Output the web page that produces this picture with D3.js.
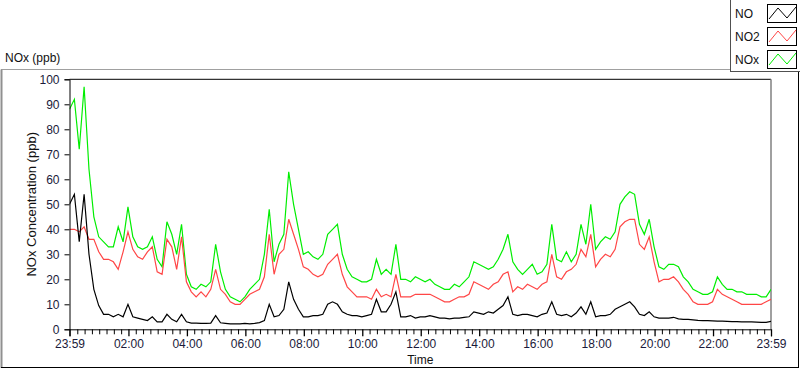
<!DOCTYPE html>
<html>
<head>
<meta charset="utf-8">
<script src="https://cdn.jsdelivr.net/npm/d3@7"></script>
<style>
  body { margin: 0; background: #fff; }
  svg { display: block; font-family: "Liberation Sans", Arial, sans-serif; }
</style>
</head>
<body>
<svg width="800" height="369"></svg>
<script>
// readings every 10 min, starting 23:59 (minute -1) up to 23:59 (minute 1439)
const startMin = -1, stepMin = 10;

const noValues = [
  50, 54, 35, 54, 30, 16, 9.5, 6, 6, 5,
  6, 5, 10, 5, 4.5, 4, 3.5, 5, 3, 3,
  6, 4, 3, 6, 3, 2.5, 2.5, 2.4, 2.4, 2.5,
  5.5, 2.6, 2.4, 2.2, 2.2, 2.2, 2.4, 2.2, 2.4, 2.7,
  3.5, 10, 5, 5.5, 8, 19, 12, 8, 5, 5,
  5.5, 5.5, 6, 10, 11, 10, 7, 6, 5.5, 5.5,
  5, 5.5, 6, 12, 7, 7, 10, 15, 5, 5,
  5.5, 4.5, 5, 5, 5.5, 5, 4.5, 4.5, 4.2, 4.5,
  4.5, 4.8, 5, 7, 6.5, 6, 7, 6.5, 8, 9.5,
  13, 6, 5.5, 6, 6, 5.5, 5, 6, 6.5, 11,
  6, 5.5, 6, 5, 6.5, 9, 6, 11, 5, 5.5,
  5.5, 6, 8, 9, 10, 11, 9, 6, 5.5, 7,
  5, 4.5, 4.5, 4.5, 4.8, 4.2, 4, 4, 3.8, 3.6,
  3.5, 3.5, 3.4, 3.3, 3.3, 3.2, 3.1, 3.1, 3, 3,
  3, 2.9, 2.8, 2.8, 3.2
];

const no2Values = [
  40, 40, 39, 41, 36, 36, 31, 28, 28, 27,
  24, 31, 39, 32, 29, 28, 31, 33, 23, 22,
  36, 33, 24, 37, 19, 15, 13, 15, 13, 16,
  24, 16, 14, 11, 10, 10, 12, 14, 15, 16,
  21, 38, 22, 30, 32, 44, 38, 32, 25, 24,
  22, 21, 22, 26, 28, 30, 22, 17, 15, 13,
  13, 13, 12, 16, 13, 14, 13, 22, 13, 13,
  13, 14, 14, 14, 14, 13, 12, 11, 11, 12,
  13, 13, 14, 19, 18, 17, 16, 18, 19, 22,
  23, 15, 17, 16, 18, 17, 16, 18, 19, 30,
  21, 20, 23, 24, 26, 32, 29, 38, 25, 28,
  30, 29, 32, 41, 43, 44, 44, 34, 32, 37,
  27, 19, 20, 20, 21, 19, 16, 14, 11, 10,
  10, 10, 11, 16, 14, 13, 12, 11, 10, 10,
  10, 10, 10, 11, 12
];

const noxValues = [
  88, 92, 72, 97, 64, 45, 37, 35, 33, 33,
  41, 35, 49, 37, 33, 32, 33, 37, 28, 25,
  43, 38, 30, 42, 22, 17, 16, 18, 17, 19,
  34, 23, 16, 13, 12, 11, 13, 16, 18, 20,
  30, 48, 27, 34, 38, 63, 50, 40, 30, 31,
  29, 28, 30, 38, 40, 42, 30, 24, 21, 20,
  19, 19, 20, 28, 22, 24, 22, 34, 20, 20,
  19, 21, 20, 19, 20, 18, 17, 16, 16, 18,
  17, 19, 21, 27, 26, 25, 24, 25, 28, 32,
  38, 27, 24, 22, 24, 26, 22, 23, 26, 42,
  28, 27, 31, 27, 30, 42, 34, 50, 32, 35,
  37, 36, 39, 50, 53, 55, 54, 42, 38, 44,
  33, 25, 24, 26, 26, 25, 21, 19, 16, 15,
  14, 14, 15, 21, 18, 16, 16, 15, 15, 14,
  14, 14, 13, 13, 16
];

const seriesNames = ["NO", "NO2", "NOx"];
const seriesColors = ["#000000", "#ff4646", "#00ee00"];
const yTicks = [0, 10, 20, 30, 40, 50, 60, 70, 80, 90, 100];
const xLabels = ["23:59", "02:00", "04:00", "06:00", "08:00", "10:00", "12:00",
                 "14:00", "16:00", "18:00", "20:00", "22:00", "23:59"];
const xLabelMins = [-1, 120, 240, 360, 480, 600, 720, 840, 960, 1080, 1200, 1320, 1439];

const svg = d3.select("svg");
const plotLeft = 69.5, plotRight = 771, plotTop = 79.3, plotBottom = 329.3;

const x = d3.scaleLinear().domain([-1, 1439]).range([plotLeft, plotRight]);
const y = d3.scaleLinear().domain([0, 100]).range([plotBottom, plotTop]);

// outer panel frame (sunken look)
svg.append("line").attr("x1", 1).attr("x2", 799).attr("y1", 69.5).attr("y2", 69.5)
  .attr("stroke", "#a0a0a0");
svg.append("line").attr("x1", 1.5).attr("x2", 1.5).attr("y1", 69.5).attr("y2", 368)
  .attr("stroke", "#909090").attr("stroke-width", 2);
svg.append("line").attr("x1", 1).attr("x2", 799).attr("y1", 367.5).attr("y2", 367.5)
  .attr("stroke", "#000");
svg.append("line").attr("x1", 798.5).attr("x2", 798.5).attr("y1", 69.5).attr("y2", 368)
  .attr("stroke", "#000");

// panel caption
svg.append("text").attr("x", 5).attr("y", 62).attr("font-size", 12).attr("fill", "#111")
  .text("NOx (ppb)");

// plot background + frame
svg.append("rect").attr("x", plotLeft).attr("y", plotTop).attr("width", plotRight - plotLeft)
  .attr("height", plotBottom - plotTop).attr("fill", "#fff");
svg.append("line").attr("x1", plotLeft).attr("x2", plotRight).attr("y1", plotTop).attr("y2", plotTop)
  .attr("stroke", "#000");
svg.append("line").attr("x1", plotRight).attr("x2", plotRight).attr("y1", plotTop).attr("y2", plotBottom)
  .attr("stroke", "#808080").attr("stroke-width", 1.5);

svg.append("clipPath").attr("id", "plotClip").append("rect")
  .attr("x", plotLeft).attr("y", plotTop).attr("width", plotRight - plotLeft)
  .attr("height", plotBottom - plotTop);

// lines
const times = noValues.map((d, i) => startMin + i * stepMin);
const allSeries = [noValues, no2Values, noxValues];
const line = d3.line()
  .x((d, i) => x(times[i]))
  .y(d => y(d));

const plot = svg.append("g").attr("clip-path", "url(#plotClip)");
// draw NOx first so NO sits on top
[2, 1, 0].forEach(s => {
  plot.append("path")
    .datum(allSeries[s])
    .attr("d", line)
    .attr("fill", "none")
    .attr("stroke", seriesColors[s])
    .attr("stroke-width", 1.2)
    .attr("stroke-linejoin", "miter");
});

// y axis
const yAxis = svg.append("g")
  .attr("transform", `translate(${plotLeft},0)`)
  .call(d3.axisLeft(y).tickValues(yTicks).tickSize(5).tickPadding(5));
yAxis.select(".domain").attr("stroke", "#000");
yAxis.selectAll("text").attr("font-size", 12).attr("font-family", "Liberation Sans, Arial, sans-serif")
  .attr("fill", "#1a1a3a");

// x axis: 15-min minor ticks, labelled major ticks
const minorTicks = d3.range(0, 1440, 15).filter(m => m % 120 !== 0);
const xAxisMinor = svg.append("g")
  .attr("transform", `translate(0,${plotBottom})`)
  .call(d3.axisBottom(x).tickValues(minorTicks).tickSize(5).tickFormat(""));
xAxisMinor.select(".domain").remove();

const xAxis = svg.append("g")
  .attr("transform", `translate(0,${plotBottom})`)
  .call(d3.axisBottom(x).tickValues(xLabelMins).tickSize(7).tickPadding(3)
    .tickFormat((d, i) => xLabels[i]));
xAxis.select(".domain").attr("stroke", "#000");
xAxis.selectAll("text").attr("font-size", 12).attr("font-family", "Liberation Sans, Arial, sans-serif")
  .attr("fill", "#1a1a3a");
xAxis.selectAll(".tick line").attr("stroke-width", 1.3);

// axis titles
svg.append("text")
  .attr("transform", `translate(36,${(plotTop + plotBottom) / 2}) rotate(-90)`)
  .attr("text-anchor", "middle").attr("font-size", 13).attr("fill", "#111")
  .text("NOx Concentration (ppb)");
svg.append("text")
  .attr("x", (plotLeft + plotRight) / 2).attr("y", 364)
  .attr("text-anchor", "middle").attr("font-size", 12).attr("fill", "#111")
  .text("Time");

// legend
const legend = svg.append("g");
legend.append("rect").attr("x", 730.5).attr("y", -1).attr("width", 70).attr("height", 72.5)
  .attr("fill", "#fff").attr("stroke", "#505050");
const zig = [[0, 14], [9, 3], [18, 13], [27, 2]];
seriesNames.forEach((name, i) => {
  const rowY = 4 + i * 23;
  legend.append("text").attr("x", 735).attr("y", rowY + 14).attr("font-size", 12)
    .attr("fill", "#111").text(name);
  legend.append("rect").attr("x", 767.5).attr("y", rowY + 0.5).attr("width", 29).attr("height", 18)
    .attr("fill", "#fff").attr("stroke", "#000");
  legend.append("polyline")
    .attr("points", zig.map(p => [769 + p[0], rowY + p[1] + 1].join(",")).join(" "))
    .attr("fill", "none").attr("stroke", seriesColors[i]).attr("stroke-width", 1);
});
</script>
</body>
</html>
